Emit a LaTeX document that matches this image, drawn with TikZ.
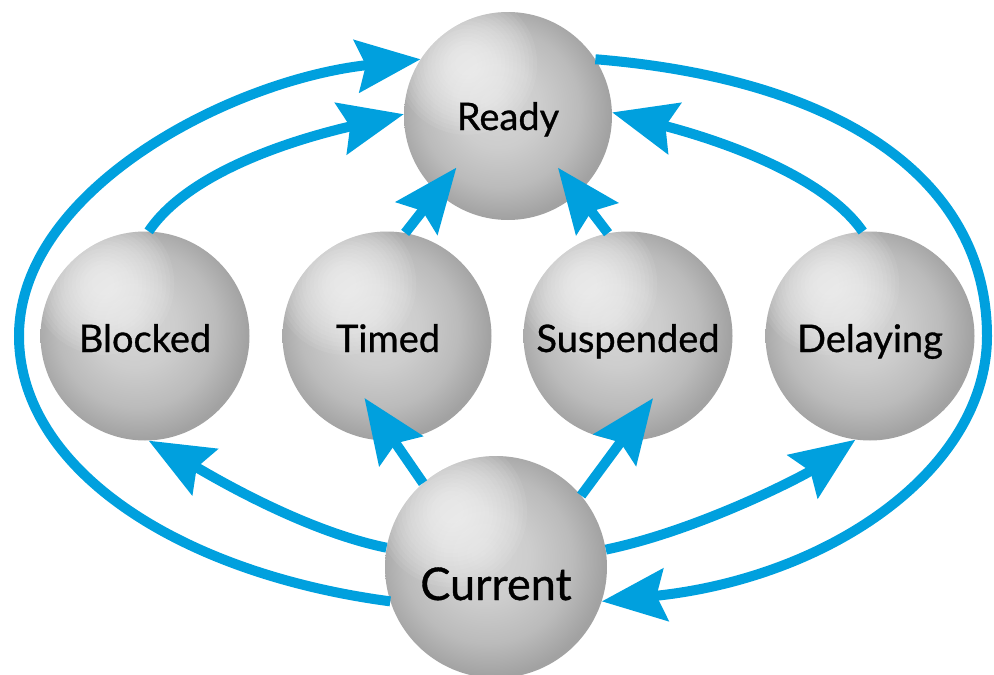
\documentclass[tikz,border=0pt]{standalone}
\usepackage{fontspec}
\setmainfont{Lato}
\newfontfamily\lblfont{Lato}[FakeBold=0.8]
\usetikzlibrary{arrows.meta,calc}
\definecolor{arrowblue}{RGB}{0,160,222}
\definecolor{sA}{HTML}{D6D6D6}
\definecolor{sB}{HTML}{CDCDCD}
\definecolor{sC}{HTML}{BBBBBB}
\definecolor{sD}{HTML}{A2A2A2}
\pgfdeclareradialshading{spherebase}{\pgfqpoint{-3bp}{3bp}}{color(0bp)=(sA); color(10bp)=(sB); color(19bp)=(sC); color(26bp)=(sD); color(50bp)=(sD)}
\tikzset{
  sphere/.style={circle, inner sep=0pt, minimum size=#1, shading=spherebase,
    path picture={
      \foreach \k in {0,...,15}{
        \fill[white, opacity=0.07]
          ([xshift=-0.2*#1, yshift=0.25*#1]path picture bounding box.center)
          circle ({(0.34-0.019*\k)*#1});
      }}},
  lbl/.style={font=\lblfont\fontsize{38}{40}\selectfont, text=black, anchor=base, inner sep=0pt},
  lblbig/.style={lbl, font=\lblfont\fontsize{45}{48}\selectfont},
  arr/.style={draw=arrowblue, line width=10pt, line cap=butt,
    -{Stealth[length=64pt, width=52pt, inset=9pt]}},
}
\begin{document}
\begin{tikzpicture}[x=1pt, y=-1pt]
\useasboundingbox (0,0) rectangle (994,675);
% spheres
\node[sphere=208pt] (Ready) at (508,116) {};
\node[sphere=209pt] (Blocked) at (145,336) {};
\node[sphere=209pt] (Timed) at (387,336) {};
\node[sphere=209pt] (Suspended) at (628,336) {};
\node[sphere=209pt] (Delaying) at (870,336) {};
\node[sphere=222pt] (Current) at (496,567) {};
% labels
\node[lbl] (tReady) at (508,130) {Ready};
\node[lbl] (tBlocked) at (145,352) {Blocked};
\node[lbl] (tTimed) at (388,352) {Timed};
\node[lbl] (tSuspended) at (628,352) {Suspended};
\node[lbl] (tDelaying) at (870,352) {Delaying};
\node[lblbig] (tCurrent) at (496,600) {Current};
% waypoints of the outer loops
\coordinate (Lw) at (19,336);
\coordinate (Rw) at (987,336);
% outer loops
\draw[arr] (Current.198) .. controls (177,573) and (19,468) .. (Lw)
  .. controls (19,190) and (230,80) .. (Ready.147);
\draw[arr] (Ready.33) .. controls (850,80) and (987,185) .. (Rw)
  .. controls (987,469) and (830,578) .. (Current.342);
% inner loops
\draw[arr] (Blocked.88) .. controls (190,170) and (300,138) .. (Ready.179);
\draw[arr] (Delaying.94) .. controls (820,170) and (700,135) .. (Ready.2);
% lower curves
\draw[arr] (Current.170) .. controls (300,530) and (205,472) .. (Blocked.272);
\draw[arr] (Current.9) .. controls (700,530) and (805,475) .. (Delaying.262);
% straight arrows
\draw[arr] (Timed.80) -- ($(Ready.center)!0.7!(Ready.225)$);
\draw[arr] (Suspended.101) -- ($(Ready.center)!0.69!(Ready.314)$);
\draw[arr] (Current.131) -- ($(Timed.center)!0.63!(Timed.250)$);
\draw[arr] (Current.40) -- ($(Suspended.center)!0.64!(Suspended.292)$);
\end{tikzpicture}
\end{document}
